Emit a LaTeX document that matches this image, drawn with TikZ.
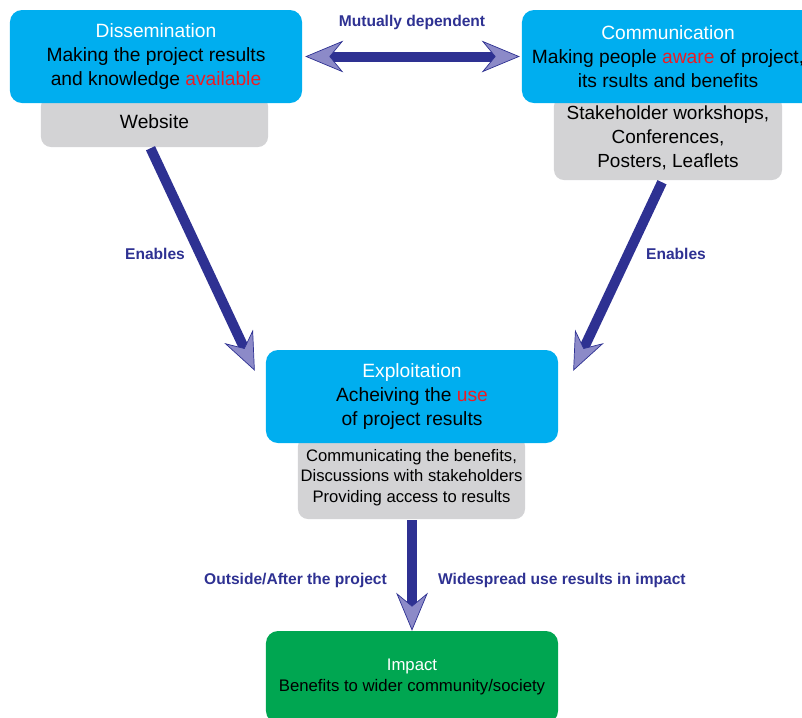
\documentclass[tikz,border=0pt]{standalone}
\usepackage{fontspec}
\setmainfont{Liberation Sans}
\usetikzlibrary{arrows.meta, calc}
\definecolor{boxblue}{RGB}{0,174,239}
\definecolor{boxgrey}{RGB}{211,211,213}
\definecolor{boxgreen}{RGB}{0,166,81}
\definecolor{arrownavy}{RGB}{46,49,146}
\definecolor{arrowlilac}{RGB}{140,138,200}
\definecolor{keyred}{RGB}{237,28,36}

\tikzset{
  mainbox/.style={fill=boxblue, rounded corners=0.36cm, minimum width=8.76cm, minimum height=2.79cm,
    align=center, inner sep=0pt, font=\fontsize{16.4}{20.4}\selectfont},
  greybox/.style={fill=boxgrey, rounded corners=0.3cm, align=center, inner sep=0pt},
  bigarrow/.style={draw=arrownavy, line width=0.3cm,
    >={Stealth[length=1.14cm, width=0.95cm, inset=0.39cm, line width=0.6pt, fill=arrowlilac]}, ->},
  arrowlabel/.style={text=arrownavy, font=\bfseries\fontsize{13.3}{15}\selectfont},
}

\begin{document}
\begin{tikzpicture}[x=0.03cm, y=-0.03cm]
    \useasboundingbox (0,0) rectangle (802,717);

    % Grey boxes (behind the blue ones)
    \node[greybox, minimum width=6.81cm, minimum height=1.53cm, font=\fontsize{16.4}{20.4}\selectfont]
        (web) at (154.5,121.5) {Website};
    \node[greybox, minimum width=6.84cm, minimum height=2.52cm, font=\fontsize{16.2}{20.4}\selectfont]
        (stake) at (668,138) {Stakeholder workshops,\\Conferences,\\Posters, Leaflets};
    \node[greybox, minimum width=6.81cm, minimum height=2.49cm, font=\fontsize{14.2}{17.4}\selectfont]
        (access) at (411.5,477.5) {Communicating the benefits,\\Discussions with stakeholders\\Providing access to results};

    % Main boxes
    \node[mainbox] (dissem) at (156,56.5)
        {{\color{white}Dissemination}\\Making the project results\\and knowledge {\color{keyred}available}};
    \node[mainbox] (comm) at (668,56.5)
        {{\color{white}Communication}\\Making people {\color{keyred}aware} of project,\\its rsults and benefits};
    \node[mainbox] (expl) at (412,396.5)
        {{\color{white}Exploitation}\\Acheiving the {\color{keyred}use}\\of project results};
    \node[mainbox, fill=boxgreen, minimum height=2.76cm, font=\fontsize{14.3}{18.7}\selectfont] (impact) at (412,677)
        {{\color{white}Impact}\\Benefits to wider community/society};

    % Arrows
    \draw[bigarrow, <->] ($(dissem.east)+(3,0)$) -- ($(comm.west)+(-2,0)$);
    \draw[bigarrow] ($(web.south)+(-4,1)$) -- ($(expl.north west)+(-11,21)$);
    \draw[bigarrow] ($(stake.south)+(-6,2)$) -- ($(expl.north east)+(15,21)$);
    \draw[bigarrow] ($(access.south)+(0.5,1)$) -- (impact.north);

    % Labels
    \node[arrowlabel] (mutual) at (412,22) {Mutually dependent};
    \node[arrowlabel] (enableleft) at (155,254) {Enables};
    \node[arrowlabel] (enableright) at (676,254) {Enables};
    \node[arrowlabel, anchor=east] (outside) at (391,580) {Outside/After the project};
    \node[arrowlabel, anchor=west] (widespread) at (434,580) {Widespread use results in impact};
\end{tikzpicture}
\end{document}
